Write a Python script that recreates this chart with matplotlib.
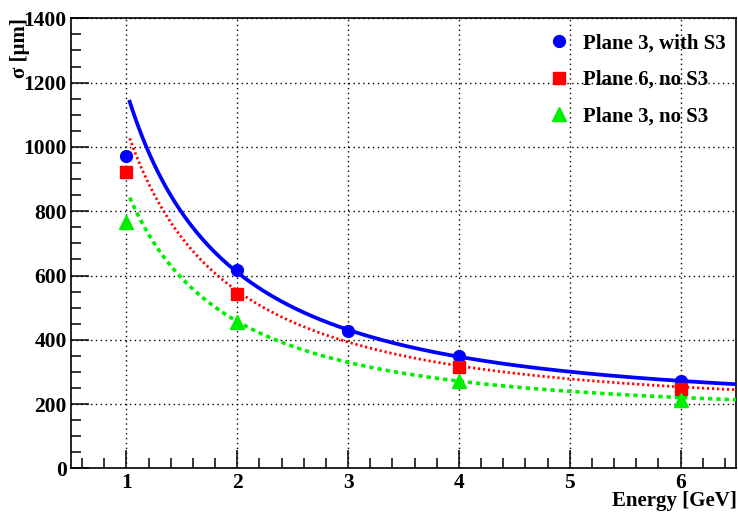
import numpy as np
import matplotlib
matplotlib.use("Agg")
import matplotlib.pyplot as plt
from matplotlib.ticker import MultipleLocator

# measured resolution points [um] vs beam energy [GeV]
energy_p3s3 = [1, 2, 3, 4, 6]
sigma_p3s3 = [972, 618, 427, 350, 272]

energy_p6 = [1, 2, 4, 6]
sigma_p6 = [921, 544, 316, 248]

energy_p3 = [1, 2, 4, 6]
sigma_p3 = [766, 456, 271, 214]

labels = ["Plane 3, with S3", "Plane 6, no S3", "Plane 3, no S3"]

# fit parameters, sigma = sqrt((a/E)^2 + b^2)
fit_a = [1158, 1040, 850]
fit_b = [192, 185, 169]
fit_range = (1.03, 6.5)


def fit_curve(e, a, b):
    return np.sqrt((a / e) ** 2 + b ** 2)


plt.rcParams['font.family'] = ['Liberation Serif', 'DejaVu Serif']
plt.rcParams['font.weight'] = 'bold'

fig = plt.figure(figsize=(7.38, 5.20), dpi=100)
ax = fig.add_axes([0.0962, 0.0992, 0.9011, 0.8656])

e = np.linspace(fit_range[0], fit_range[1], 300)
ax.plot(e, fit_curve(e, fit_a[0], fit_b[0]), color='#0000ff', lw=2.7, zorder=3)
ax.plot(e, fit_curve(e, fit_a[1], fit_b[1]), color='#ff0000', lw=2.0,
        linestyle=(0, (0.8, 1.0)), zorder=3)
ax.plot(e, fit_curve(e, fit_a[2], fit_b[2]), color='#00ee00', lw=2.6,
        linestyle=(0, (1.2, 1.1)), zorder=3)

ax.plot(energy_p3s3, sigma_p3s3, 'o', color='#0000ff', ms=8.5, mec='#0000ff',
        label=labels[0], zorder=4)
ax.plot(energy_p6, sigma_p6, 's', color='#ff0000', ms=8.5, mec='#ff0000',
        label=labels[1], zorder=4)
ax.plot(energy_p3, sigma_p3, '^', color='#00ee00', ms=9.5, mec='#00ee00',
        label=labels[2], zorder=4)

ax.set_xlim(0.5, 6.5)
ax.set_ylim(0, 1400)
ax.xaxis.set_major_locator(MultipleLocator(1))
ax.xaxis.set_minor_locator(MultipleLocator(0.2))
ax.yaxis.set_major_locator(MultipleLocator(200))
ax.yaxis.set_minor_locator(MultipleLocator(50))
ax.tick_params(which='both', direction='in', top=False, right=False, width=1.1)
ax.tick_params(which='major', length=13, labelsize=15.5, pad=3)
ax.tick_params(which='minor', length=7)
for lab in ax.get_xticklabels() + ax.get_yticklabels():
    lab.set_fontweight('bold')
for sp in ax.spines.values():
    sp.set_linewidth(1.2)

ax.grid(True, which='major', color='black', linestyle=(0, (1, 2.5)), linewidth=1.0)
ax.set_axisbelow(True)

fig.text(0.998, 0.026, "Energy [GeV]", ha='right', va='baseline',
         fontsize=15, fontweight='bold')
fig.text(0.013, 0.965, "σ [μm]", ha='left', va='top', rotation=90,
         fontsize=15, fontweight='bold')

leg = ax.legend(loc='upper left', bbox_to_anchor=(0.703, 0.985), frameon=False,
                fontsize=15, handletextpad=0.55, labelspacing=0.8,
                borderaxespad=0, handlelength=1.2, numpoints=1)
for t in leg.get_texts():
    t.set_fontweight('bold')

fig.savefig("out.png", dpi=100)
